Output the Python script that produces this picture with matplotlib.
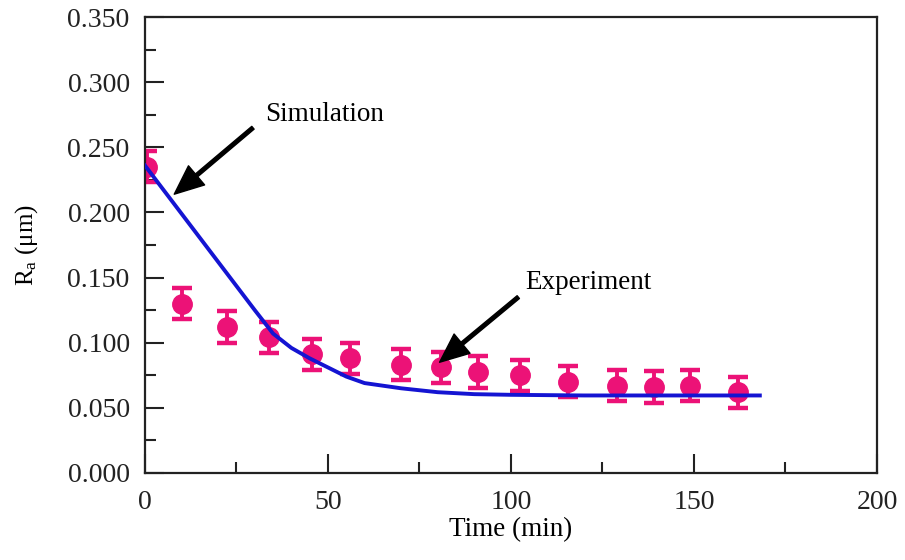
import numpy as np
import matplotlib
matplotlib.use('Agg')
import matplotlib.pyplot as plt
from matplotlib.ticker import MultipleLocator, FormatStrFormatter

# experiment (measured Ra, with error bars)
expTime = [0.5, 10, 22.5, 34, 45.5, 56, 70, 81, 91, 102.5, 115.5, 129, 139, 149, 162]
expRa = [0.235, 0.130, 0.112, 0.104, 0.091, 0.088, 0.083, 0.081, 0.0775, 0.075, 0.070, 0.067, 0.066, 0.067, 0.062]
expErr = [0.012] * len(expTime)

# simulation curve
simTime = [0, 10, 20, 30, 35, 40, 45, 50, 55, 60, 70, 80, 90, 100, 120, 168]
simRa = [0.236, 0.199, 0.162, 0.125, 0.107, 0.096, 0.088, 0.081, 0.074, 0.069, 0.065, 0.062, 0.0605, 0.0600, 0.0595, 0.0595]

# annotation labels: (text, text pos, arrow tail, arrow tip)
labels = [
    ('Simulation', (32.8, 0.275), (29.5, 0.265), (8.0, 0.214)),
    ('Experiment', (103.8, 0.146), (102.0, 0.135), (80.5, 0.085)),
]

plt.rcParams['font.family'] = ['Liberation Serif', 'DejaVu Serif']
plt.rcParams['mathtext.fontset'] = 'custom'
plt.rcParams['mathtext.rm'] = 'Liberation Serif'
plt.rcParams['mathtext.it'] = 'Liberation Serif:italic'

pink = '#EC1277'
blue = '#1414D2'

fig = plt.figure(figsize=(9.05, 5.6), dpi=100)
ax = fig.add_axes([0.1602, 0.1554, 0.969 - 0.1602, 0.9696 - 0.1554])

ax.plot(simTime, simRa, color=blue, lw=2.8, zorder=3)
ax.errorbar(expTime, expRa, yerr=expErr, fmt='o', color=pink, ms=14, mec=pink,
            elinewidth=2.8, capsize=7.5, capthick=3.2, zorder=2)

for txt, tpos, tail, tip in labels:
    ax.annotate('', xy=tip, xytext=tail,
                arrowprops=dict(facecolor='black', edgecolor='black', width=2.6,
                                headwidth=18, headlength=21, shrink=0))
    ax.text(tpos[0], tpos[1], txt, fontsize=19.5, ha='left', va='center')

ax.set_xlim(0, 200)
ax.set_ylim(0, 0.35)
ax.xaxis.set_major_locator(MultipleLocator(50))
ax.xaxis.set_minor_locator(MultipleLocator(25))
ax.yaxis.set_major_locator(MultipleLocator(0.05))
ax.yaxis.set_minor_locator(MultipleLocator(0.025))
ax.yaxis.set_major_formatter(FormatStrFormatter('%.3f'))

ax.tick_params(which='both', direction='in', top=False, right=False,
               labelsize=20, colors='#222222', width=1.5)
ax.tick_params(which='major', length=14)
ax.tick_params(which='minor', length=8)
ax.tick_params(axis='x', pad=12)
ax.tick_params(axis='y', pad=11)

for s in ax.spines.values():
    s.set_linewidth(1.6)
    s.set_color('#222222')

ax.set_xlabel('Time (min)', fontsize=19.5, labelpad=2)
ax.set_ylabel(r'R$_\mathrm{a}$ (μm)', fontsize=18, labelpad=20)

fig.savefig('out.png', dpi=100)
